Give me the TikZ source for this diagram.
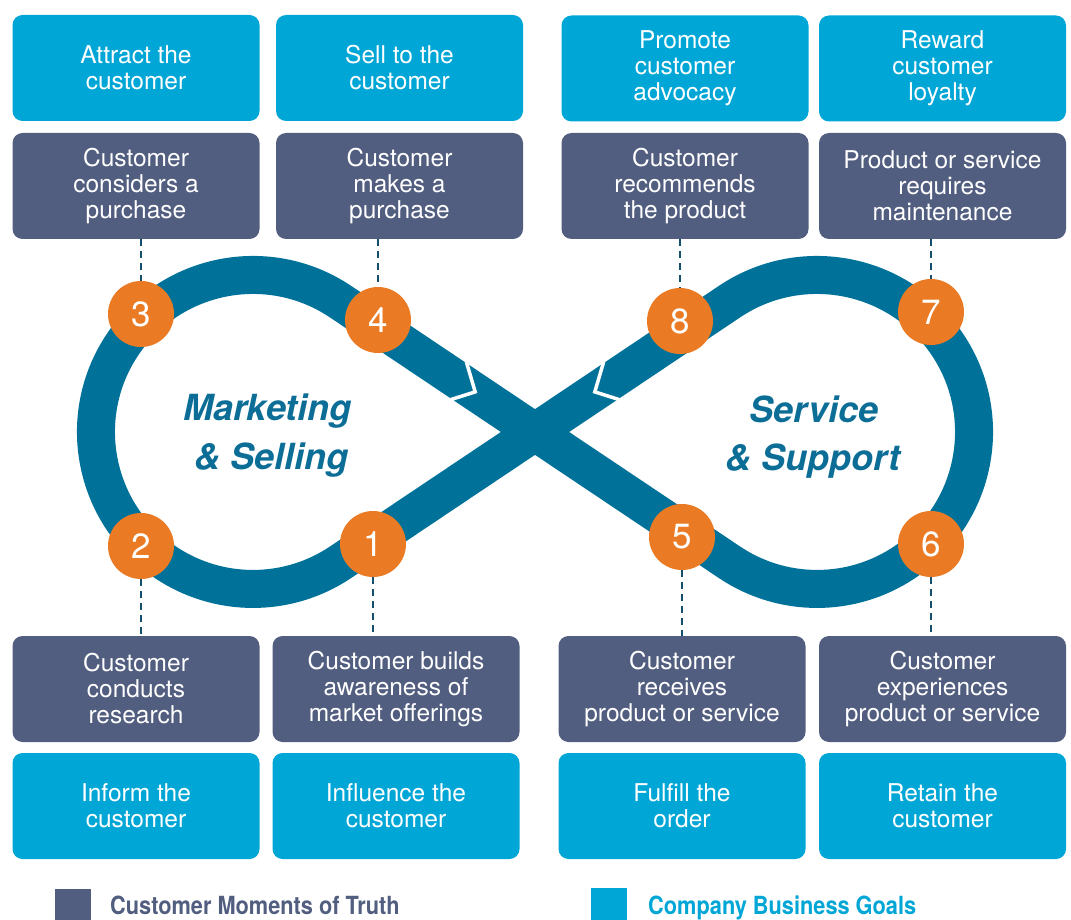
\documentclass[tikz,border=0pt]{standalone}
\usepackage{fontspec}
\setmainfont{TeX Gyre Heros}
\definecolor{goal}{RGB}{0,166,214}
\definecolor{moment}{RGB}{82,94,128}
\definecolor{bandc}{RGB}{0,114,154}
\definecolor{dotc}{RGB}{234,123,36}
\definecolor{lblc}{RGB}{12,110,150}
\definecolor{dashc}{RGB}{20,80,110}
\begin{document}
\begin{tikzpicture}[x=1pt,y=-1pt,
  box/.style={rounded corners=10pt, minimum width=247pt, minimum height=106pt, inner sep=0pt, align=center, text=white, font=\fontsize{24.5}{26}\selectfont},
  goalbox/.style={box, fill=goal},
  momentbox/.style={box, fill=moment},
  num/.style={circle, fill=dotc, minimum size=66pt, inner sep=0pt, text=white, font=\fontsize{35}{35}\selectfont},
  conn/.style={draw=dashc, line width=1.7pt, dash pattern=on 7pt off 5pt},
  looplbl/.style={inner sep=0pt, text=lblc, font=\fontsize{36}{36}\selectfont\bfseries\itshape},
  legendtxt/.style={inner sep=0pt, anchor=base west, xscale=0.87, font=\fontsize{25}{25}\selectfont\bfseries},
  chevron/.style={draw=white, line width=3.5pt, miter limit=10}
]
\useasboundingbox (0,0) rectangle (1071,920);

% top goal boxes
\node[goalbox] (g3) at (136,68) {Attract the\\customer};
\node[goalbox] (g4) at (399.5,68) {Sell to the\\customer};
\node[goalbox] (g8) at (685,68.5) {Promote\\customer\\advocacy};
\node[goalbox] (g7) at (942.5,68.5) {Reward\\customer\\loyalty};
% top moment boxes
\node[momentbox] (m3) at (136,186) {Customer\\considers a\\purchase};
\node[momentbox] (m4) at (399.5,186) {Customer\\makes a\\purchase};
\node[momentbox] (m8) at (685,186) {Customer\\recommends\\the product};
\node[momentbox] (m7) at (942.5,186) {Product or service\\requires\\maintenance};
% bottom moment boxes
\node[momentbox] (m2) at (136,689) {Customer\\conducts\\research};
\node[momentbox] (m1) at (396,689) {Customer builds\\awareness of\\market offerings};
\node[momentbox] (m5) at (682,689) {Customer\\receives\\product or service};
\node[momentbox] (m6) at (942.5,689) {Customer\\experiences\\product or service};
% bottom goal boxes
\node[goalbox] (g2) at (136,806) {Inform the\\customer};
\node[goalbox] (g1) at (396,806) {Influence the\\customer};
\node[goalbox] (g5) at (682,806) {Fulfill the\\order};
\node[goalbox] (g6) at (942.5,806) {Retain the\\customer};

% infinity band
\coordinate (X) at (535,432);
\draw[bandc, line width=38pt, line join=round]
  (X) -- (340.3,301.5) arc[start angle=-56.2, end angle=-303.8, radius=157]
  -- (X) -- (729.7,301.5) arc[start angle=-123.8, end angle=123.8, radius=157]
  -- cycle;
% arrow seams
\draw[chevron] (466.4,362.0) -- (475.2,391.9) -- (450.8,399.6);
\draw[chevron] (603.6,362.0) -- (594.8,391.9) -- (619.2,399.6);

% loop labels
\node[looplbl, anchor=base east] (lm1) at (352,420) {Marketing};
\node[looplbl, anchor=base east] (lm2) at (349,469) {\& Selling};
\node[looplbl, anchor=base] (ls1) at (814,422) {Service};
\node[looplbl, anchor=base] (ls2) at (813,470) {\& Support};

% step circles
\node[num] (n3) at (141,314) {3};
\node[num] (n4) at (378,320) {4};
\node[num] (n8) at (680,321) {8};
\node[num] (n7) at (931,312) {7};
\node[num] (n2) at (141,546) {2};
\node[num] (n1) at (373,544) {1};
\node[num] (n5) at (682,537) {5};
\node[num] (n6) at (931,544) {6};

% dashed connectors
\draw[conn] (n3.north |- m3.south) -- (n3.north);
\draw[conn] (n4.north |- m4.south) -- (n4.north);
\draw[conn] (n8.north |- m8.south) -- (n8.north);
\draw[conn] (n7.north |- m7.south) -- (n7.north);
\draw[conn] (n2.south) -- (n2.south |- m2.north);
\draw[conn] (n1.south) -- (n1.south |- m1.north);
\draw[conn] (n5.south) -- (n5.south |- m5.north);
\draw[conn] (n6.south) -- (n6.south |- m6.north);

% legend
\fill[moment] (55,889) rectangle (91,920);
\node[legendtxt, text=moment] (lg1) at (110,914) {Customer Moments of Truth};
\fill[goal] (591,888) rectangle (627,920);
\node[legendtxt, text=goal] (lg2) at (648,914) {Company Business Goals};
\end{tikzpicture}
\end{document}
